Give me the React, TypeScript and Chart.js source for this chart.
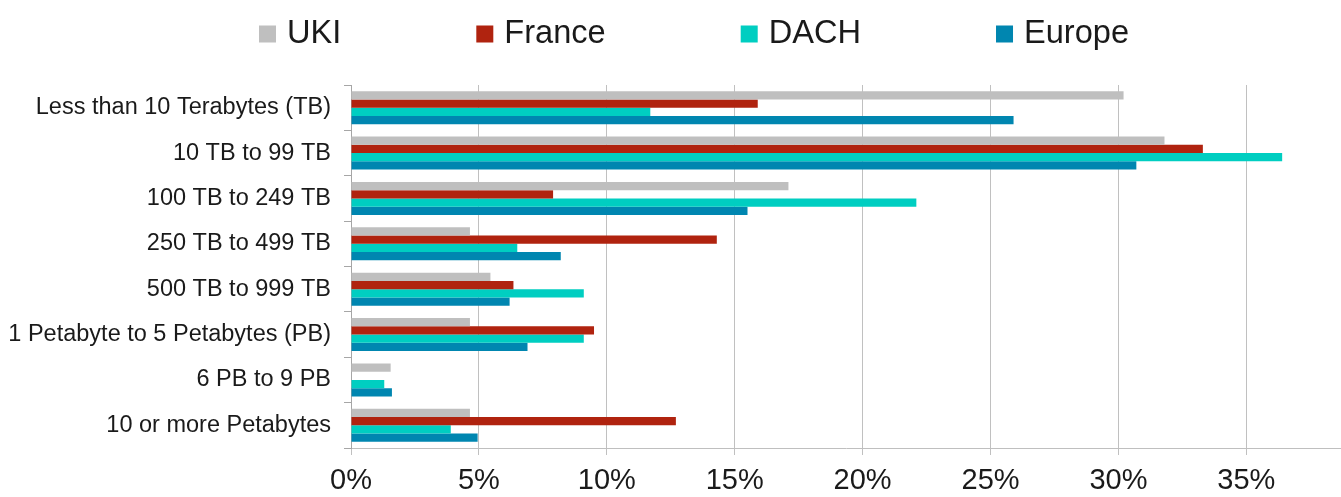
import React, { useEffect, useRef } from "react";
import { Chart, registerables } from "chart.js";

Chart.register(...registerables);

const categories = [
  "Less than 10 Terabytes (TB)",
  "10 TB to 99 TB",
  "100 TB to 249 TB",
  "250 TB to 499 TB",
  "500 TB to 999 TB",
  "1 Petabyte to 5 Petabytes (PB)",
  "6 PB to 9 PB",
  "10 or more Petabytes",
];

const ukiValues = [30.2, 31.8, 17.1, 4.65, 5.45, 4.65, 1.55, 4.65];
const franceValues = [15.9, 33.3, 7.9, 14.3, 6.35, 9.5, 0, 12.7];
const dachValues = [11.7, 36.4, 22.1, 6.5, 9.1, 9.1, 1.3, 3.9];
const europeValues = [25.9, 30.7, 15.5, 8.2, 6.2, 6.9, 1.6, 4.95];

const xTickValues = [0, 5, 10, 15, 20, 25, 30, 35];
const xMax = 38.7;

const FONT = '"Liberation Sans", Arial, sans-serif';

const legendPlugin = {
  id: "topLegend",
  afterDraw(chart: any) {
    const ctx = chart.ctx;
    ctx.save();
    ctx.font = `32.6px ${FONT}`;
    ctx.textBaseline = "alphabetic";
    ctx.textAlign = "left";
    let x = 259;
    chart.data.datasets.forEach((ds: any) => {
      ctx.fillStyle = ds.backgroundColor;
      ctx.fillRect(x, 25.5, 17, 17);
      x += 17 + 11;
      ctx.fillStyle = "#1a1a1a";
      ctx.fillText(ds.label, x, 43.3);
      x += ctx.measureText(ds.label).width + 135;
    });
    ctx.restore();
  },
};

export default function App() {
  const canvasRef = useRef<HTMLCanvasElement | null>(null);

  useEffect(() => {
    if (!canvasRef.current) return;
    const chart = new Chart(canvasRef.current, {
      type: "bar",
      data: {
        labels: categories,
        datasets: [
          { label: "UKI", data: ukiValues, backgroundColor: "#BFBFBF" },
          { label: "France", data: franceValues, backgroundColor: "#B0230F" },
          { label: "DACH", data: dachValues, backgroundColor: "#00CEC1" },
          { label: "Europe", data: europeValues, backgroundColor: "#0086B0" },
        ],
      },
      options: {
        indexAxis: "y",
        responsive: false,
        animation: false,
        devicePixelRatio: 1,
        layout: { padding: { top: 85, left: 0, right: 0, bottom: 0 } },
        datasets: {
          bar: { categoryPercentage: 0.73, barPercentage: 1, borderWidth: 0 },
        },
        plugins: {
          legend: { display: false },
          tooltip: { enabled: false },
        },
        scales: {
          x: {
            type: "linear",
            min: 0,
            max: xMax,
            afterBuildTicks: (axis: any) => {
              axis.ticks = xTickValues.map((v) => ({ value: v }));
            },
            afterFit: (axis: any) => {
              axis.height = 49;
            },
            grid: { color: "#C0C0C0", lineWidth: 1, tickLength: 7, drawTicks: true },
            border: { color: "#BFBFBF", width: 1 },
            ticks: {
              padding: 9,
              color: "#1a1a1a",
              font: { family: FONT, size: 29 },
              callback: (v: any) => `${v}%`,
            },
          },
          y: {
            type: "category",
            afterFit: (axis: any) => {
              axis.width = 351;
            },
            grid: {
              drawOnChartArea: false,
              drawTicks: true,
              tickLength: 7,
              color: "#A6A6A6",
              offset: true,
            },
            border: { color: "#A6A6A6", width: 1 },
            ticks: {
              padding: 13,
              color: "#1a1a1a",
              font: { family: FONT, size: 23.5 },
            },
          },
        },
      },
      plugins: [legendPlugin],
    });
    return () => chart.destroy();
  }, []);

  return (
    <div
      style={{
        position: "fixed",
        left: 0,
        top: 0,
        width: "1341px",
        height: "497px",
        background: "#ffffff",
      }}
    >
      <canvas ref={canvasRef} width={1341} height={497} />
    </div>
  );
}
